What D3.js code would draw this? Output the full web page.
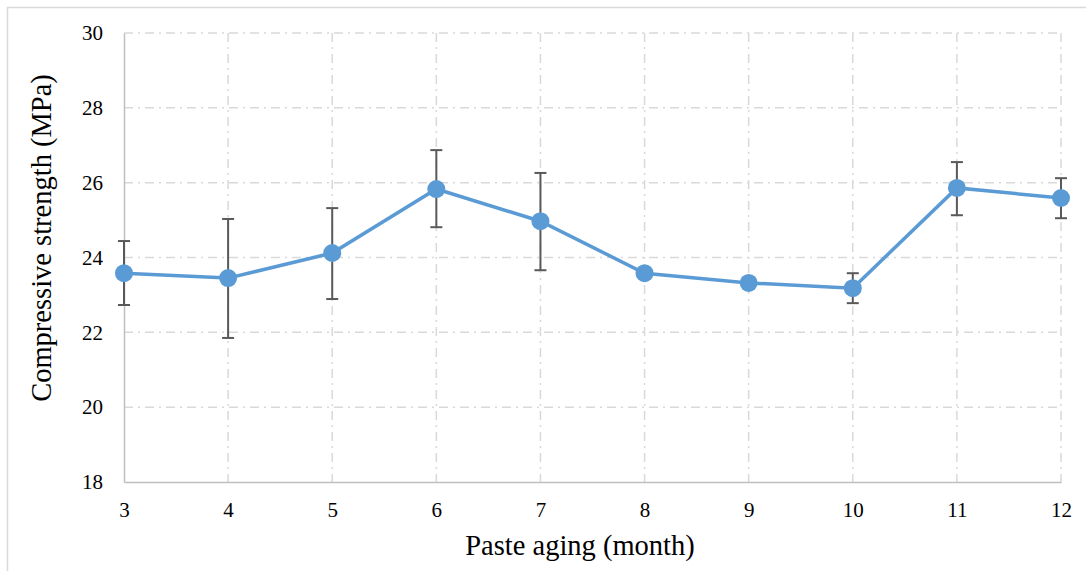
<!DOCTYPE html>
<html><head><meta charset="utf-8">
<script src="https://cdn.jsdelivr.net/npm/d3@7/dist/d3.min.js"></script>
<style>body{margin:0;background:#fff}svg{display:block}text{font-family:"Liberation Serif","Times New Roman",serif !important;fill:#000}</style>
</head><body><svg id="c" width="1086" height="571"></svg>
<script>
const months = [3,4,5,6,7,8,9,10,11,12];
const strength = [23.58,23.45,24.12,25.83,24.97,23.58,23.32,23.18,25.86,25.59];
const errUpper = [24.44,25.03,25.32,26.87,26.26,23.58,23.32,23.58,26.55,26.12];
const errLower = [22.73,21.85,22.89,24.81,23.66,23.58,23.32,22.78,25.13,25.05];
const yTicks = [18,20,22,24,26,28,30];
const xTicks = [3,4,5,6,7,8,9,10,11,12];

const svg = d3.select("#c");
const L=124,R=1061,T=33,B=482;
const x = d3.scaleLinear().domain([3,12]).range([L,R]);
const y = d3.scaleLinear().domain([18,30]).range([B,T]);

svg.append("rect").attr("x",7.5).attr("y",7.5).attr("width",1090).attr("height",580)
  .attr("fill","none").attr("stroke","#d9d9d9").attr("stroke-width",1.5);

const dash="9,5,2,5";
const g=svg.append("g");
g.selectAll(".hg").data(yTicks.filter(d=>d>18)).join("line")
  .attr("x1",L).attr("x2",R).attr("y1",d=>y(d)).attr("y2",d=>y(d))
  .attr("stroke","#d9d9d9").attr("stroke-width",1.5).attr("stroke-dasharray",dash);
g.selectAll(".vg").data(xTicks.filter(d=>d>3)).join("line")
  .attr("x1",d=>x(d)).attr("x2",d=>x(d)).attr("y1",T).attr("y2",B)
  .attr("stroke","#d9d9d9").attr("stroke-width",1.5).attr("stroke-dasharray",dash);

const ya = svg.append("g").attr("transform",`translate(${L},0)`)
  .call(d3.axisLeft(y).tickValues(yTicks).tickSize(0).tickPadding(21));
ya.attr("font-family","Liberation Serif").attr("font-size",21);
ya.select(".domain").attr("stroke","#bfbfbf").attr("stroke-width",1.5);
ya.selectAll("text").style("font-size","21px");
const xa = svg.append("g").attr("transform",`translate(0,${B})`)
  .call(d3.axisBottom(x).tickValues(xTicks).tickSize(0).tickPadding(20));
xa.attr("font-family","Liberation Serif").attr("font-size",21);
xa.select(".domain").attr("stroke","#bfbfbf").attr("stroke-width",1.5);
xa.selectAll("text").style("font-size","21px");

const eb = svg.append("g").attr("stroke","#595959").attr("stroke-width",2);
months.forEach((m,i)=>{
  if(errUpper[i]-errLower[i] < 0.01) return;
  eb.append("line").attr("x1",x(m)).attr("x2",x(m)).attr("y1",y(errUpper[i])).attr("y2",y(errLower[i]));
  [errUpper[i],errLower[i]].forEach(v=>eb.append("line").attr("x1",x(m)-6).attr("x2",x(m)+6).attr("y1",y(v)).attr("y2",y(v)));
});

svg.append("path").datum(months.map((m,i)=>[m,strength[i]]))
  .attr("d",d3.line().x(d=>x(d[0])).y(d=>y(d[1])))
  .attr("fill","none").attr("stroke","#5b9bd5").attr("stroke-width",3.5);
svg.selectAll(".pt").data(months.map((m,i)=>[m,strength[i]])).join("circle")
  .attr("cx",d=>x(d[0])).attr("cy",d=>y(d[1])).attr("r",9).attr("fill","#5b9bd5");

svg.append("text").attr("x",580).attr("y",555).attr("text-anchor","middle")
  .style("font-size","28.5px").text("Paste aging (month)");
svg.append("text").attr("transform","translate(51,238) rotate(-90)").attr("text-anchor","middle")
  .style("font-size","28.5px").text("Compressive strength (MPa)");
</script></body></html>
